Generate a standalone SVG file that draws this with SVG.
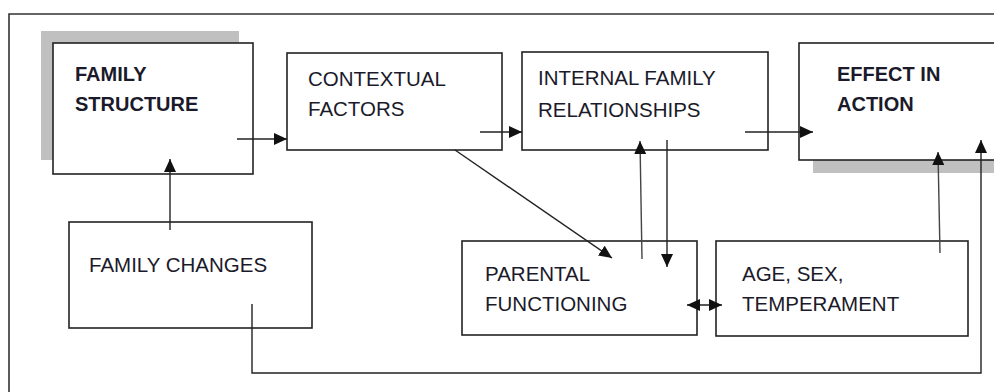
<svg xmlns="http://www.w3.org/2000/svg" width="994" height="392" viewBox="0 0 994 392">
<style>
.box{fill:#fff;stroke:#222;stroke-width:1.6}
.shadow{fill:#c0c0c0}
.t{font-family:"Liberation Sans",Arial,sans-serif;font-size:20.5px;fill:#1a1a2a}
.b{font-family:"Liberation Sans",Arial,sans-serif;font-size:20px;font-weight:bold;fill:#1a1a2a}
.c{fill:none;stroke:#222;stroke-width:1.4}
.g{fill:none;stroke:#444;stroke-width:1.4}
</style>
<defs>
<marker id="ah" markerUnits="userSpaceOnUse" markerWidth="14" markerHeight="12" refX="13" refY="6" orient="auto-start-reverse">
<path d="M0,0 L13,6 L0,12 z" fill="#111"/>
</marker>
</defs>
<rect width="994" height="392" fill="#fff"/>
<path d="M9,392 V14 H994" fill="none" stroke="#333" stroke-width="1.6"/>

<g id="family-structure">
<rect class="shadow" x="41" y="31" width="198" height="129"/>
<rect class="box" x="53" y="43" width="200" height="131"/>
<text class="b" x="75" y="81">FAMILY</text>
<text class="b" x="75" y="111">STRUCTURE</text>
</g>

<g id="contextual-factors">
<rect class="box" x="287" y="53" width="215" height="97"/>
<text class="t" x="308" y="86">CONTEXTUAL</text>
<text class="t" x="308" y="116">FACTORS</text>
</g>

<g id="internal-family-relationships">
<rect class="box" x="522" y="52" width="246" height="98"/>
<text class="t" x="538" y="85">INTERNAL FAMILY</text>
<text class="t" x="538" y="117">RELATIONSHIPS</text>
</g>

<g id="effect-in-action">
<rect class="shadow" x="813" y="56" width="200" height="117"/>
<rect class="box" x="799" y="43" width="210" height="117"/>
<text class="b" x="837" y="81">EFFECT IN</text>
<text class="b" x="837" y="111">ACTION</text>
</g>

<g id="family-changes">
<rect class="box" x="69" y="222" width="243" height="106"/>
<text class="t" x="89" y="272">FAMILY CHANGES</text>
</g>

<g id="parental-functioning">
<rect class="box" x="462" y="241" width="235" height="94"/>
<text class="t" x="485" y="281">PARENTAL</text>
<text class="t" x="485" y="311">FUNCTIONING</text>
</g>

<g id="age-sex-temperament">
<rect class="box" x="716" y="241" width="252" height="95"/>
<text class="t" x="742" y="281">AGE, SEX,</text>
<text class="t" x="742" y="311">TEMPERAMENT</text>
</g>

<g id="connectors">
<line class="c" x1="237" y1="139" x2="287" y2="139" marker-end="url(#ah)"/>
<line class="c" x1="480" y1="132" x2="522" y2="132" marker-end="url(#ah)"/>
<line class="c" x1="745" y1="132" x2="813" y2="132" marker-end="url(#ah)"/>
<line class="c" x1="170" y1="230" x2="170" y2="159" marker-end="url(#ah)"/>
<line class="c" x1="455" y1="150" x2="612" y2="258" marker-end="url(#ah)"/>
<line class="g" x1="642" y1="259" x2="640" y2="141" marker-end="url(#ah)"/>
<line class="c" x1="667" y1="140" x2="667" y2="267" marker-end="url(#ah)"/>
<line class="c" x1="687" y1="305" x2="722" y2="305" marker-start="url(#ah)" marker-end="url(#ah)"/>
<line class="g" x1="940" y1="253" x2="938" y2="152" marker-end="url(#ah)"/>
<path class="c" d="M252,304 V373 H981 V140" marker-end="url(#ah)"/>
</g>
</svg>
